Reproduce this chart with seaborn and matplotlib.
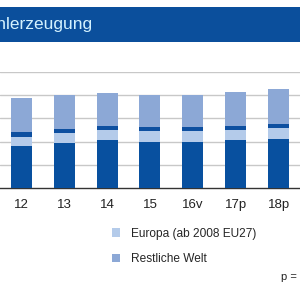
import matplotlib
matplotlib.use("Agg")
import matplotlib.pyplot as plt
from matplotlib.patches import Patch, Rectangle
import numpy as np
import pandas as pd
import seaborn as sns

years = ["12", "13", "14", "15", "16v", "17p", "18p"]
china = [719, 771, 822, 793, 793, 828, 845]
europa = [160, 178, 178, 184, 190, 178, 184]
band = [91, 74, 74, 74, 69, 69, 69]
rest = [586, 576, 564, 547, 547, 586, 609]

series_names = ["China", "Europa (ab 2008 EU27)", "Sonstige", "Restliche Welt"]
series_vals = [china, europa, band, rest]
colors = ["#08509F", "#B4CBEA", "#0D4FA0", "#8CA8D6"]

sns.set_style("white")
plt.rcParams["font.family"] = ["Liberation Sans", "DejaVu Sans"]

fig = plt.figure(figsize=(3, 3), dpi=100)
ax = fig.add_axes([0, 1 - 188 / 300, 1, 116 / 300])

cum = np.cumsum(np.array(series_vals), axis=0)
df = pd.DataFrame({"Jahr": years})
for i in range(len(series_names) - 1, -1, -1):
    df["v"] = cum[i]
    sns.barplot(data=df, x="Jahr", y="v", color=colors[i], width=0.49,
                saturation=1, linewidth=0, edgecolor="none", ax=ax,
                zorder=3 + (len(series_names) - i))

ax.set_ylim(0, 2000)
ax.set_xlim(-0.5, 6.477)
ax.set_yticks([400, 800, 1200, 1600, 2000])
ax.set_yticklabels([])
ax.grid(axis="y", color="#C8C8C8", linewidth=1, zorder=0)
ax.set_axisbelow(True)
ax.tick_params(axis="y", length=0)
for s in ["top", "right", "left"]:
    ax.spines[s].set_visible(False)
ax.spines["bottom"].set_color("#333333")
ax.spines["bottom"].set_linewidth(1)
ax.set_xlabel("")
ax.set_ylabel("")
ax.set_xticks(range(len(years)))
ax.set_xticklabels(years, fontsize=9.5, color="#222222")
ax.tick_params(axis="x", length=0, pad=8)
ax.set_xticks(np.arange(-0.5, 7, 1.0), minor=True)
ax.tick_params(axis="x", which="minor", length=3, direction="out", color="#333333", width=1)

# title bar
fig.patches.append(Rectangle((0, 1 - 42 / 300), 1, 35 / 300, transform=fig.transFigure,
                             facecolor="#0B4F9C", edgecolor="none", zorder=0))
fig.text(93 / 300, 1 - 24 / 300, "Rohstahlerzeugung", ha="right", va="center",
         fontsize=12.5, color="#D4F2FF")

handles = [Patch(facecolor=colors[1], edgecolor="none"),
           Patch(facecolor=colors[3], edgecolor="none")]
fig.legend(handles, [series_names[1], series_names[3]], loc="upper left",
           bbox_to_anchor=(101 / 300, 1 - 217 / 300), frameon=False, fontsize=8.6,
           handlelength=0.7, handleheight=0.7, labelspacing=1.1, handletextpad=0.9)

fig.text(281 / 300, 1 - 277 / 300, "p = Prognose", ha="left", va="center",
         fontsize=8, color="#222222")

fig.savefig("out.png", dpi=100)
